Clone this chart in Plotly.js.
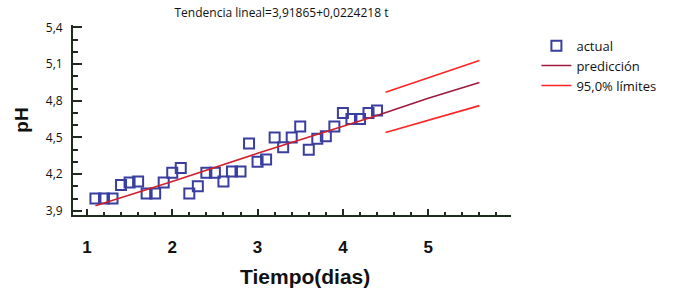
<!DOCTYPE html>
<html>
<head>
<meta charset="utf-8">
<script src="https://cdn.plot.ly/plotly-3.0.1.min.js"></script>
<style>html,body{margin:0;padding:0;background:#fff}#chart{width:673px;height:294px}</style>
</head>
<body>
<div id="chart"></div>
<script>
// Observed data (time in days, pH)
var tiempo = [1.1,1.2,1.3,1.4,1.5,1.6,1.7,1.8,1.9,2.0,2.1,2.2,2.3,2.4,2.5,2.6,2.7,2.8,2.9,3.0,3.1,3.2,3.3,3.4,3.5,3.6,3.7,3.8,3.9,4.0,4.1,4.2,4.3,4.4];
var phActual = [4.00,4.00,4.00,4.11,4.13,4.14,4.04,4.04,4.13,4.21,4.25,4.04,4.10,4.21,4.21,4.14,4.22,4.22,4.45,4.30,4.32,4.50,4.42,4.50,4.59,4.40,4.49,4.51,4.59,4.70,4.65,4.65,4.70,4.72];
// Fitted trend (within data) and forecast
var ajusteX = [1.1,2.0,3.0,4.0,4.4];
var ajusteY = [3.94,4.14,4.37,4.59,4.68];
var prediccionX = [4.4,5.0,5.6];
var prediccionY = [4.68,4.82,4.95];
// 95% limits
var limitesX = [4.5,5.0,5.6];
var limiteSup = [4.87,4.99,5.13];
var limiteInf = [4.54,4.64,4.76];
var xTicks = [1,2,3,4,5];
var yTicks = [3.9,4.2,4.5,4.8,5.1,5.4];

var axisColor = '#1e2b1e';
var traces = [
  {x: tiempo, y: phActual, type:'scatter', mode:'markers', name:'actual',
   marker:{symbol:'square-open', size:10, color:'#3a3f9f', line:{width:2, color:'#3a3f9f'}}},
  {x: ajusteX, y: ajusteY, type:'scatter', mode:'lines', name:'ajuste', showlegend:false,
   line:{color:'#d0202c', width:1.6}},
  {x: prediccionX, y: prediccionY, type:'scatter', mode:'lines', name:'predicción',
   line:{color:'#9e1a3a', width:1.6}},
  {x: limitesX, y: limiteSup, type:'scatter', mode:'lines', name:'95,0% límites',
   line:{color:'#ff2424', width:1.6}},
  {x: limitesX, y: limiteInf, type:'scatter', mode:'lines', name:'95,0% límites inf', showlegend:false,
   line:{color:'#ff2424', width:1.6}}
];

var layout = {
  width:673, height:294,
  margin:{l:73, r:156, t:25, b:79, pad:0},
  paper_bgcolor:'#fff', plot_bgcolor:'#fff',
  separators:',.',
  showlegend:true,
  title:{text:'Tendencia lineal=3,91865+0,0224218 t', xref:'paper', x:0.476, xanchor:'center',
         yref:'container', y:0.955, yanchor:'middle',
         font:{family:'Open Sans, Noto Sans, sans-serif', size:12, color:'#111'}},
  xaxis:{range:[0.837,5.97], tickvals:xTicks, ticktext:xTicks.map(String),
         showgrid:false, zeroline:false, showline:true, linecolor:axisColor, linewidth:2,
         ticks:'inside', ticklen:6, tickwidth:2, tickcolor:axisColor,
         minor:{dtick:0.2, tick0:0, ticks:'inside', ticklen:3, tickwidth:2, tickcolor:axisColor},
         ticklabelstandoff:16,
         tickfont:{family:'Liberation Sans, Arial, sans-serif', size:17, color:'#111', weight:'bold'}},
  yaxis:{range:[3.865,5.42], tickvals:yTicks, tickformat:'.1f',
         showgrid:false, zeroline:false, showline:true, linecolor:axisColor, linewidth:2,
         ticks:'inside', ticklen:9, tickwidth:2, tickcolor:axisColor,
         minor:{dtick:0.1, tick0:0, ticks:'inside', ticklen:5, tickwidth:2, tickcolor:axisColor},
         ticklabelstandoff:6,
         tickfont:{family:'Open Sans, Noto Sans, sans-serif', size:12, color:'#111'},
         title:{text:'pH', standoff:12, font:{family:'Liberation Sans, Arial, sans-serif', size:19, color:'#111', weight:'bold'}}},
  legend:{x:1.058, xanchor:'left', y:0.97, yanchor:'top', bgcolor:'rgba(0,0,0,0)',
          font:{family:'Open Sans, Noto Sans, sans-serif', size:13, color:'#111'}, tracegroupgap:0},
  annotations:[{text:'Tiempo(dias)', xref:'paper', yref:'paper', x:0.53, y:0, xanchor:'center', yanchor:'middle',
                yshift:-61, showarrow:false,
                font:{family:'Liberation Sans, Arial, sans-serif', size:21, color:'#111', weight:'bold'}}]
};
Plotly.newPlot('chart', traces, layout, {displayModeBar:false, staticPlot:true});
</script>
</body>
</html>
